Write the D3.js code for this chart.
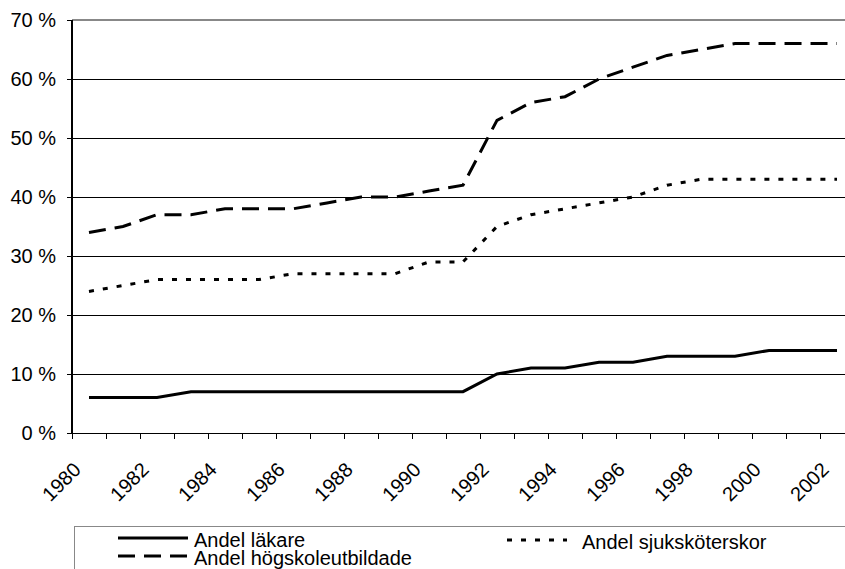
<!DOCTYPE html>
<html>
<head>
<meta charset="utf-8">
<script src="https://cdn.jsdelivr.net/npm/d3@7"></script>
<style>
body{margin:0;background:#fff;}
svg{display:block;font-family:"Liberation Sans",Arial,sans-serif;}
</style>
</head>
<body>
<div id="chart"></div>
<script>
var years=[1980,1981,1982,1983,1984,1985,1986,1987,1988,1989,1990,1991,1992,1993,1994,1995,1996,1997,1998,1999,2000,2001,2002];
var lakare=[6,6,6,7,7,7,7,7,7,7,7,7,10,11,11,12,12,13,13,13,14,14,14];
var sjukskoterskor=[24,25,26,26,26,26,27,27,27,27,29,29,35,37,38,39,40,42,43,43,43,43,43];
var hogskole=[34,35,37,37,38,38,38,39,40,40,41,42,53,56,57,60,62,64,65,66,66,66,66];
var yTicks=[0,10,20,30,40,50,60,70];
var seriesNames=["Andel läkare","Andel sjuksköterskor","Andel högskoleutbildade"];

var svg=d3.select("#chart").append("svg")
	.attr("width",845)
	.attr("height",569);

var plot_left=72,plot_top=20,plot_bottom=433,band=34;
var x=d3.scaleBand().domain(years).range([plot_left,plot_left+years.length*band]).padding(0);
var y=d3.scaleLinear().domain([0,70]).range([plot_bottom,plot_top]);
var cx=function(d,i){return x(years[i])+x.bandwidth()/2;};

// grid lines
svg.append("g").selectAll("line")
	.data(yTicks)
	.enter().append("line")
	.attr("x1",plot_left).attr("x2",x.range()[1])
	.attr("y1",function(d){return y(d);})
	.attr("y2",function(d){return y(d);})
	.attr("stroke",function(d){return d==70?"#888":"#000";})
	.attr("stroke-width",function(d){return d==70?2:1;})
	.attr("shape-rendering","crispEdges");

// y ticks + labels
svg.append("g").selectAll("line")
	.data(yTicks)
	.enter().append("line")
	.attr("x1",plot_left-5).attr("x2",plot_left)
	.attr("y1",function(d){return y(d);})
	.attr("y2",function(d){return y(d);})
	.attr("stroke","#000")
	.attr("shape-rendering","crispEdges");
svg.append("g").selectAll("text")
	.data(yTicks)
	.enter().append("text")
	.attr("x",56)
	.attr("y",function(d){return y(d);})
	.attr("dy","0.36em")
	.attr("text-anchor","end")
	.attr("font-size",20)
	.text(function(d){return d+" %";});

// axes
svg.append("line").attr("x1",plot_left).attr("x2",plot_left).attr("y1",plot_top).attr("y2",plot_bottom)
	.attr("stroke","#000").attr("stroke-width",2);
svg.append("line").attr("x1",plot_left-5).attr("x2",x.range()[1]).attr("y1",plot_bottom).attr("y2",plot_bottom)
	.attr("stroke","#000").attr("shape-rendering","crispEdges");
svg.append("g").selectAll("line")
	.data(years.concat([years[years.length-1]+1]))
	.enter().append("line")
	.attr("x1",function(d,i){return plot_left+i*band;})
	.attr("x2",function(d,i){return plot_left+i*band;})
	.attr("y1",plot_bottom).attr("y2",plot_bottom+6)
	.attr("stroke","#000")
	.attr("shape-rendering","crispEdges");
svg.append("g").selectAll("text")
	.data(years.filter(function(d){return d%2==0;}))
	.enter().append("text")
	.attr("transform",function(d){return "translate("+(x(d)+x.bandwidth()/2-7)+",471) rotate(-45)";})
	.attr("text-anchor","end")
	.attr("font-size",20)
	.text(function(d){return d;});

// lines
var line=d3.line().x(cx).y(function(d){return y(d);});
svg.append("path").datum(lakare)
	.attr("d",line).attr("fill","none")
	.attr("stroke","#000").attr("stroke-width",3);
svg.append("path").datum(sjukskoterskor)
	.attr("d",line).attr("fill","none")
	.attr("stroke","#000").attr("stroke-width",3)
	.attr("stroke-dasharray","5,9");
svg.append("path").datum(hogskole)
	.attr("d",line).attr("fill","none")
	.attr("stroke","#000").attr("stroke-width",3)
	.attr("stroke-dasharray","17,9");

// legend
svg.append("rect").attr("x",74.5).attr("y",526.5).attr("width",800).attr("height",100)
	.attr("fill","none").attr("stroke","#888");
var legend=[
	{name:seriesNames[0],x1:118,x2:188,y:538,dash:null},
	{name:seriesNames[1],x1:507,x2:567,y:540,dash:"5,9"},
	{name:seriesNames[2],x1:118,x2:188,y:556,dash:"17,9"}
];
var lg=svg.append("g").selectAll("g").data(legend).enter().append("g");
lg.append("line")
	.attr("x1",function(d){return d.x1;})
	.attr("x2",function(d){return d.x2;})
	.attr("y1",function(d){return d.y;})
	.attr("y2",function(d){return d.y;})
	.attr("stroke","#000").attr("stroke-width",3)
	.attr("stroke-dasharray",function(d){return d.dash;});
lg.append("text")
	.attr("x",function(d){return d.x2+6+(d.dash=="5,9"?9:0);})
	.attr("y",function(d){return d.y+9;})
	.attr("font-size",20)
	.text(function(d){return d.name;});
</script>
</body>
</html>
